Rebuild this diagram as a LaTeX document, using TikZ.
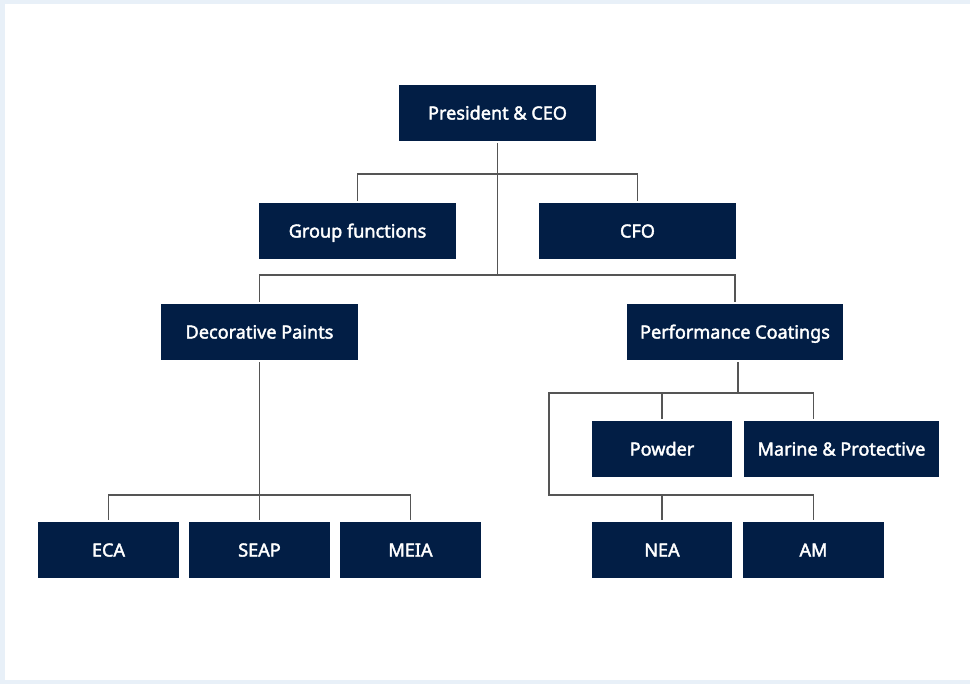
\documentclass[tikz,border=0pt]{standalone}
\usepackage{fontspec}
\setmainfont{Noto Sans}
\newfontfamily\unitfont{Noto Sans}[FakeBold=2.2]
\usepackage{xcolor}
\definecolor{org-navy}{HTML}{021E45}
\definecolor{org-line}{HTML}{555555}
\definecolor{org-frame}{HTML}{E8F0F8}
\usepackage{tikz}

\tikzset{
  unit/.style={fill=org-navy, text=white, inner sep=0pt, outer sep=1.4pt,
    minimum height=1.12cm, text height=7.4pt, text depth=0pt,
    font=\fontsize{10.3}{12}\unitfont},
  wide/.style={unit, minimum width=3.94cm},
  narrow/.style={unit, minimum width=2.81cm},
  link/.style={draw=org-line, line width=0.6pt}
}

\begin{document}
\begin{tikzpicture}[x=0.02cm, y=-0.02cm]

    % Background
    \fill[org-frame] (0, 0) rectangle (970, 684);
    \fill[white] (5, 4) rectangle (970, 680);

    % Top
    \node[wide] (ceo) at (497.5, 113) {President \& CEO};
    \node[wide] (gf) at (357.5, 231) {Group functions};
    \node[wide] (cfo) at (637.5, 231) {CFO};

    % Divisions
    \node[wide] (dp) at (259.5, 332) {Decorative Paints};
    \node[wide, minimum width=4.32cm] (pc) at (735, 332) {Performance Coatings};

    % Business units
    \node[narrow] (eca) at (108.5, 550) {ECA};
    \node[narrow] (seap) at (259.5, 550) {SEAP};
    \node[narrow] (meia) at (410.5, 550) {MEIA};

    \node[narrow] (pow) at (662, 449) {Powder};
    \node[unit, minimum width=3.9cm] (mp) at (841.5, 449) {Marine \& Protective};
    \node[narrow] (nea) at (662, 550) {NEA};
    \node[narrow] (am) at (813.5, 550) {AM};

    % Bus heights
    \coordinate (busA) at (0, 174);
    \coordinate (busB) at (0, 275);
    \coordinate (busC) at (0, 495);
    \coordinate (busD) at (0, 393);
    \coordinate (spine) at (549, 0);

    % Lines
    \draw[link] (ceo.south) -- (ceo.south |- busB);
    \draw[link] (gf.north) |- (cfo.north |- busA) -- (cfo.north);
    \draw[link] (dp.north) |- (pc.north |- busB) -- (pc.north);

    \draw[link] (dp.south) -- (dp.south |- busC);
    \draw[link] (eca.north) |- (meia.north |- busC) -- (meia.north);
    \draw[link] (seap.north) -- (seap.north |- busC);

    \draw[link] ([xshift=0.06cm]pc.south) -- ([xshift=0.06cm]pc.south |- busD);
    \draw[link] (am.north) |- (spine |- busC) |- (am.north |- busD) -- (am.north |- mp.north);
    \draw[link] (pow.north) -- (pow.north |- busD);
    \draw[link] (nea.north) -- (nea.north |- busC);

\end{tikzpicture}
\end{document}
